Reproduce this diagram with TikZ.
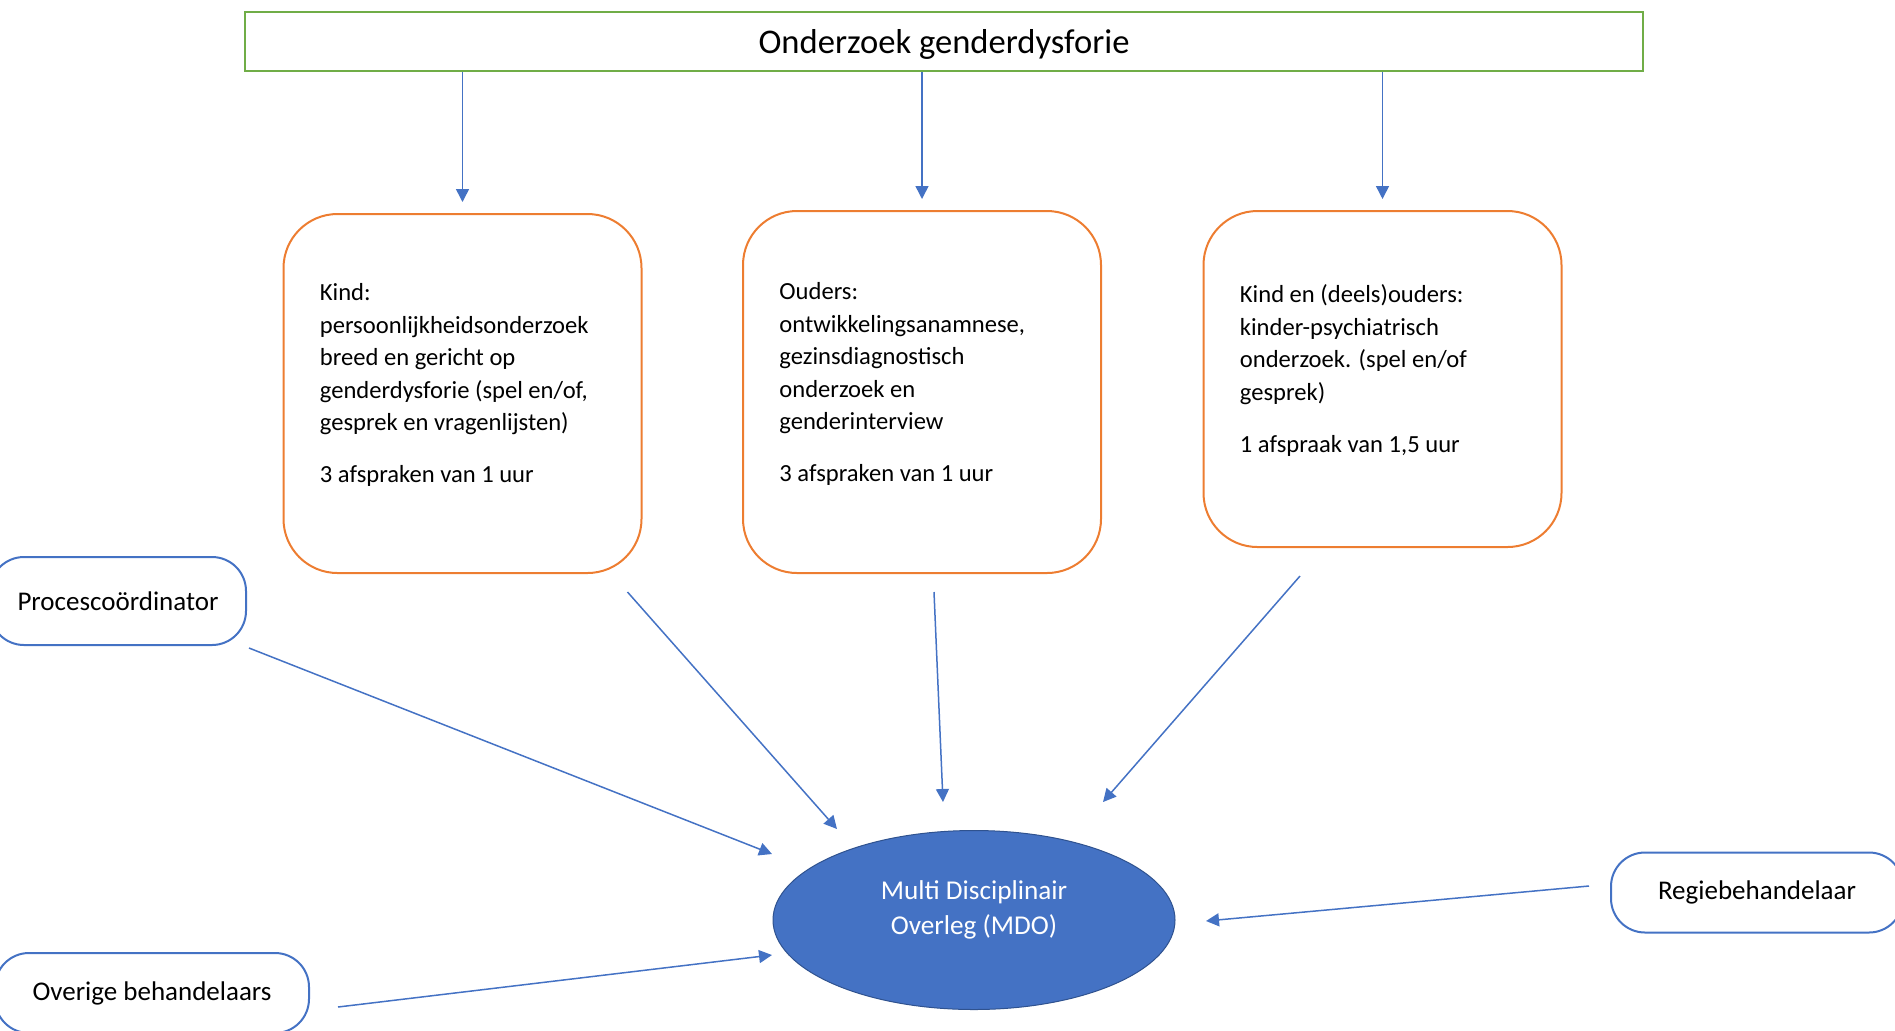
\documentclass[tikz,border=0pt]{standalone}
\usepackage{fontspec}
\setmainfont{Carlito}
\usepackage{xcolor}
\usetikzlibrary{shapes.geometric,arrows.meta,calc}
\definecolor{kadergroen}{RGB}{112,173,71}
\definecolor{kaderoranje}{RGB}{237,125,49}
\definecolor{kaderblauw}{RGB}{68,114,196}
\definecolor{randblauw}{RGB}{47,82,143}
\tikzset{
  titelbox/.style={draw=kadergroen,line width=0.8pt,minimum width=699pt,minimum height=29.5pt,
    text depth=0pt,font=\fontsize{17.3}{20}\selectfont},
  stapbox/.style={draw=kaderoranje,line width=1pt,rounded corners=27pt,minimum width=179pt},
  staptekst/.style={anchor=north west,inner sep=0pt,align=left,font=\fontsize{12.3}{16.3}\selectfont},
  rolbox/.style={draw=kaderblauw,line width=1pt,rounded corners=17pt,font=\fontsize{13.5}{16}\selectfont},
  pijl/.style={-{Triangle[length=6.5pt,width=6.5pt]},draw=kaderblauw,line width=0.75pt}
}
\begin{document}
\begin{tikzpicture}[x=0.5pt,y=-0.5pt]
        \useasboundingbox (0,0) rectangle (1895,1030);
        % onderzoek
        \node[titelbox] (titel) at (944,41.5) {Onderzoek genderdysforie};
        % drie stappen
        \node[stapbox,minimum height=179.5pt] (kind) at (462.5,393.5) {};
        \node[staptekst] (kindtekst) at ($(kind.north west)+(37,70)$)
          {Kind:\\persoonlijkheidsonderzoek\\breed en gericht op\\genderdysforie (spel en/of,\\gesprek en vragenlijsten)\\[9.7pt]3 afspraken van 1 uur};
        \node[stapbox,minimum height=181pt] (ouders) at (922,392) {};
        \node[staptekst] (ouderstekst) at ($(ouders.north west)+(37,72)$)
          {Ouders:\\ontwikkelingsanamnese,\\gezinsdiagnostisch\\onderzoek en\\genderinterview\\[9.7pt]3 afspraken van 1 uur};
        \node[stapbox,minimum height=168pt] (samen) at (1382.5,379) {};
        \node[staptekst] (samentekst) at ($(samen.north west)+(37,74)$)
          {Kind en (deels)ouders:\\kinder-psychiatrisch\\onderzoek. (spel en/of\\gesprek)\\[9.7pt]1 afspraak van 1,5 uur};
        \foreach \s in {kind,ouders,samen}
          \draw[pijl,shorten >=5.5pt] (titel.south -| \s.north) -- (\s.north);
        % overleg
        \node[ellipse,draw=randblauw,fill=kaderblauw,line width=0.5pt,minimum width=201pt,minimum height=89.5pt] (mdo) at (974,920) {};
        \node[text=white,align=center,font=\fontsize{13.6}{17.5}\selectfont] (mdotekst) at (974,909.5)
          {Multi Disciplinair\\Overleg (MDO)};
        % rollen
        \node[rolbox,minimum width=128pt,minimum height=44pt,text depth=0pt] (proces) at (118,601) {Procescoördinator};
        \node[rolbox,minimum width=157pt,minimum height=40pt] (overige) at (152,993) {Overige behandelaars};
        \node[rolbox,minimum width=146pt,minimum height=40pt] (regie) at (1757,892.5) {Regiebehandelaar};
        % pijlen naar MDO
        \draw[pijl] ($(kind.south east)+(-15,18)$) -- ($(mdo.center)+(-137,-91)$);
        \draw[pijl] ($(ouders.south)+(12,18)$) -- ($(mdo.center)+(-31,-118)$);
        \draw[pijl] ($(samen.south)+(-82.5,28)$) -- ($(mdo.center)+(129,-118)$);
        \draw[pijl] ($(proces.south east)+(2,2)$) -- ($(mdo.center)+(-202,-66)$);
        \draw[pijl] ($(overige.east)+(28,14)$) -- ($(mdo.center)+(-202,35)$);
        \draw[pijl] ($(regie.west)+(-21,-6.5)$) -- ($(mdo.center)+(232,1)$);
\end{tikzpicture}
\end{document}
